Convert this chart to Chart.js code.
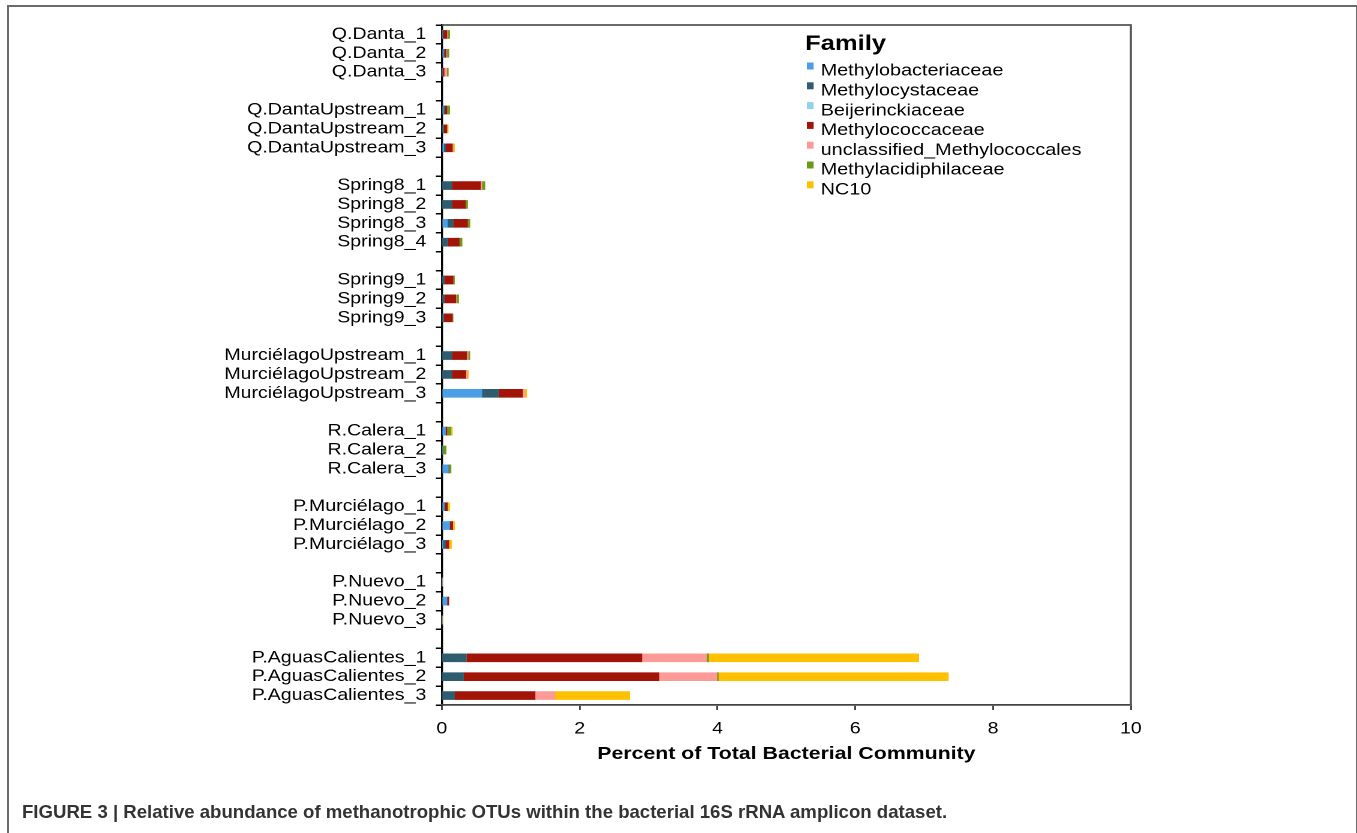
<!DOCTYPE html>
<html>
<head>
<meta charset="utf-8">
<script src="https://cdn.jsdelivr.net/npm/chart.js@4.4.1/dist/chart.umd.min.js"></script>
<style>
  html, body { margin:0; padding:0; background:#fff; width:1357px; height:833px; overflow:hidden; }
  #frame { position:absolute; left:7px; top:5px; width:1347px; height:900px; border-left:2px solid #6b6b6b; border-top:2px solid #6b6b6b; border-right:2px solid #6b6b6b; }
  #wrap { position:absolute; left:0; top:0; transform-origin:0 0; }
  #caption { position:absolute; left:22px; top:801px; font-family:"Liberation Sans", Arial, sans-serif; font-weight:bold; font-size:18.6px; line-height:22px; color:#333; white-space:nowrap; }
</style>
</head>
<body>
<div id="frame"></div>
<div id="wrap"><canvas id="c"></canvas></div>
<div id="caption">FIGURE 3 | Relative abundance of methanotrophic OTUs within the bacterial 16S rRNA amplicon dataset.</div>
<script>
// ---- data (top to bottom); "" = spacer rows between sites ----
const categories = [
  "Q.Danta_1","Q.Danta_2","Q.Danta_3","",
  "Q.DantaUpstream_1","Q.DantaUpstream_2","Q.DantaUpstream_3","",
  "Spring8_1","Spring8_2","Spring8_3","Spring8_4","",
  "Spring9_1","Spring9_2","Spring9_3","",
  "MurciélagoUpstream_1","MurciélagoUpstream_2","MurciélagoUpstream_3","",
  "R.Calera_1","R.Calera_2","R.Calera_3","",
  "P.Murciélago_1","P.Murciélago_2","P.Murciélago_3","",
  "P.Nuevo_1","P.Nuevo_2","P.Nuevo_3","",
  "P.AguasCalientes_1","P.AguasCalientes_2","P.AguasCalientes_3"
];
const methylobacteriaceae = [0,0.02,0,null, 0.02,0,0.025,null, 0,0,0.08,0,null, 0,0,0,null, 0,0,0.58,null, 0.05,0,0.09,null, 0.03,0.11,0.01,null, 0,0.07,0,null, 0,0,0];
const methylocystaceae    = [0.01,0.01,0,null, 0.02,0.02,0.025,null, 0.14,0.14,0.08,0.08,null, 0.03,0.03,0.02,null, 0.14,0.145,0.24,null, 0,0.01,0,null, 0.01,0,0.04,null, 0,0,0,null, 0.35,0.31,0.18];
const beijerinckiaceae    = [0,0,0,null, 0,0,0,null, 0,0,0,0,null, 0,0,0,null, 0,0,0,null, 0,0,0,null, 0,0,0,null, 0,0,0,null, 0,0,0];
const methylococcaceae    = [0.06,0.03,0.03,null, 0.03,0.05,0.10,null, 0.42,0.20,0.21,0.17,null, 0.13,0.17,0.13,null, 0.22,0.20,0.35,null, 0.02,0,0.01,null, 0.04,0.045,0.05,null, 0,0.03,0,null, 2.55,2.84,1.17];
const unclassifiedMethylococcales = [0.01,0.01,0.04,null, 0,0,0.01,null, 0.02,0,0,0,null, 0,0.01,0,null, 0.02,0.02,0.03,null, 0,0,0,null, 0,0,0,null, 0.01,0,0,null, 0.94,0.84,0.285];
const methylacidiphilaceae = [0.03,0.03,0.02,null, 0.04,0,0,null, 0.045,0.03,0.035,0.04,null, 0.02,0.03,0.01,null, 0.025,0,0,null, 0.06,0.05,0.03,null, 0,0,0,null, 0,0,0,null, 0.03,0.02,0];
const nc10                = [0,0,0,null, 0,0.02,0.02,null, 0,0,0,0,null, 0,0,0,null, 0,0.02,0.03,null, 0.02,0,0,null, 0.03,0.03,0.04,null, 0,0,0.01,null, 3.05,3.34,1.09];
const seriesNames = ["Methylobacteriaceae","Methylocystaceae","Beijerinckiaceae","Methylococcaceae","unclassified_Methylococcales","Methylacidiphilaceae","NC10"];
const seriesColors = ["#4a9fe6","#2d5d6f","#8fd3e8","#a11407","#fc9a98","#6c9a18","#ffc000"];
const xTicks = [0,2,4,6,8,10];
const legendTitle = "Family";
const xTitle = "Percent of Total Bacterial Community";

const seriesData = [methylobacteriaceae, methylocystaceae, beijerinckiaceae, methylococcaceae, unclassifiedMethylococcales, methylacidiphilaceae, nc10];

// ---- layout: figure is horizontally stretched by SX ----
const W = 1131, H = 833, SX = 1357 / W;
const canvas = document.getElementById('c');
canvas.width = W; canvas.height = H;
document.getElementById('wrap').style.transform = 'scale(' + SX + ',1)';
const FONT = '"Liberation Sans", Arial, Helvetica, sans-serif';

const framePlugin = {
  id: 'frameLines',
  beforeDatasetsDraw(chart) {
    const {ctx, chartArea: a} = chart;
    ctx.save();
    ctx.strokeStyle = '#555'; ctx.lineWidth = 1.8;
    ctx.beginPath();
    ctx.moveTo(a.left, a.top); ctx.lineTo(a.right, a.top); ctx.lineTo(a.right, a.bottom);
    ctx.stroke();
    ctx.restore();
  }
};
const legendPlugin = {
  id: 'familyLegend',
  afterDraw(chart) {
    const ctx = chart.ctx;
    ctx.save();
    ctx.textBaseline = 'alphabetic'; ctx.textAlign = 'left';
    ctx.fillStyle = '#000';
    ctx.font = 'bold 21.3px ' + FONT;
    ctx.fillText(legendTitle, 671, 50);
    chart.data.datasets.forEach((ds, i) => {
      const base = 75.7 + i * 19.8;
      ctx.fillStyle = ds.backgroundColor;
      ctx.fillRect(672.5, base - 13.2, 5.6, 7);
      ctx.fillStyle = '#000';
      ctx.font = '16.5px ' + FONT;
      ctx.fillText(ds.label, 684, base);
    });
    ctx.restore();
  }
};

new Chart(canvas, {
  type: 'bar',
  data: {
    labels: categories,
    datasets: seriesNames.map((n, i) => ({
      label: n, data: seriesData[i], backgroundColor: seriesColors[i],
      borderWidth: 0, barThickness: 8
    }))
  },
  options: {
    indexAxis: 'y',
    responsive: false,
    animation: false,
    devicePixelRatio: 2,
    layout: { padding: { top: 25, right: 188.5, bottom: 70, left: 0 } },
    plugins: { legend: { display: false }, tooltip: { enabled: false } },
    scales: {
      y: {
        type: 'category', stacked: true, offset: true,
        grid: { offset: true, drawOnChartArea: false, drawTicks: true, tickLength: 5, color: '#000', lineWidth: 1.5 },
        border: { display: true, color: '#000', width: 1.8 },
        ticks: { color: '#000', font: { family: FONT, size: 16.3 }, padding: 8, autoSkip: false },
        afterFit(s) { s.width = 368.3; }
      },
      x: {
        type: 'linear', stacked: true, min: 0, max: 10,
        afterBuildTicks(s) { s.ticks = xTicks.map(v => ({ value: v })); },
        grid: { drawOnChartArea: false, drawTicks: true, tickLength: 5, color: '#444', lineWidth: 1.5 },
        border: { display: true, color: '#444', width: 1.8 },
        ticks: { color: '#000', font: { family: FONT, size: 16.3 }, padding: 9 },
        title: { display: true, text: xTitle, color: '#000', font: { family: FONT, size: 17.75, weight: 'bold', lineHeight: 1 }, padding: 0 },
        afterFit(s) { s.height = 58; }
      }
    }
  },
  plugins: [framePlugin, legendPlugin]
});
</script>
</body>
</html>
